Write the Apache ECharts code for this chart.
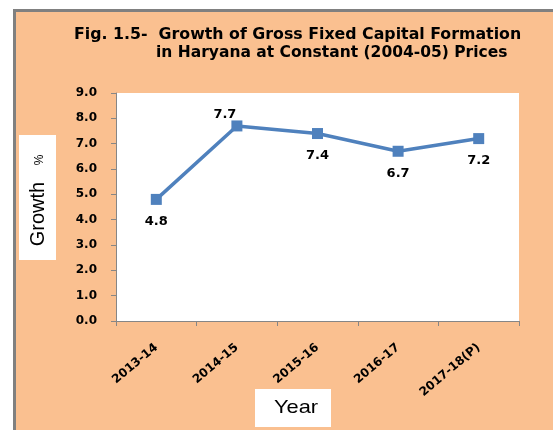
<!DOCTYPE html>
<html>
<head>
<meta charset="utf-8">
<script src="https://cdn.jsdelivr.net/npm/echarts@6/dist/echarts.min.js"></script>
<style>
html,body{margin:0;padding:0;background:#fff;}
#frame{position:absolute;left:13px;top:9px;width:540px;height:421px;box-sizing:border-box;background:#FAC090;border-left:3px solid #808080;border-top:3px solid #808080;}
#c{position:absolute;left:0;top:0;width:553px;height:430px;}
</style>
</head>
<body>
<div id="frame"></div>
<div id="c"></div>
<script>
var categories = ['2013-14', '2014-15', '2015-16', '2016-17', '2017-18(P)'];
var growth = [4.8, 7.7, 7.4, 6.7, 7.2];
var labelPositions = ['bottom', 'top', 'bottom', 'bottom', 'bottom'];
var titleLine1 = 'Fig. 1.5-  Growth of Gross Fixed Capital Formation';
var titleLine2 = 'in Haryana at Constant (2004-05) Prices';
var yName = 'Growth';
var yUnit = '%';
var xName = 'Year';

var chart = echarts.init(document.getElementById('c'), null, {renderer: 'canvas'});
var boldFont = {fontFamily: 'DejaVu Sans', fontWeight: 'bold', color: '#000'};

var data = growth.map(function (v, i) {
  var pos = labelPositions[i];
  return {
    value: v,
    label: pos === 'top'
      ? {position: 'top', distance: 6, offset: [-12, 7]}
      : {position: 'bottom', distance: 10}
  };
});

chart.setOption({
  backgroundColor: 'transparent',
  animation: false,
  title: [
    {text: titleLine1, left: 69, top: 22, textStyle: Object.assign({fontSize: 15.8}, boldFont)},
    {text: titleLine2, left: 151, top: 40, textStyle: Object.assign({fontSize: 15.5}, boldFont)}
  ],
  grid: {left: 116, right: 34, top: 93, bottom: 109, show: true, backgroundColor: '#fff', borderWidth: 0},
  xAxis: {
    type: 'category',
    data: categories,
    boundaryGap: true,
    axisLine: {lineStyle: {color: '#868686', width: 1}},
    axisTick: {show: true, length: 5, alignWithLabel: false, lineStyle: {color: '#868686'}},
    axisLabel: Object.assign({rotate: 40, fontSize: 12, margin: 25, interval: 0}, boldFont),
    splitLine: {show: false}
  },
  yAxis: {
    type: 'value',
    min: 0, max: 9, interval: 1,
    axisLine: {show: true, lineStyle: {color: '#868686', width: 1}},
    axisTick: {show: true, length: 5, lineStyle: {color: '#868686'}},
    axisLabel: Object.assign({fontSize: 12, margin: 19, formatter: function (v) { return v.toFixed(1); }}, boldFont),
    splitLine: {show: false}
  },
  series: [{
    type: 'line',
    data: data,
    symbol: 'rect',
    symbolSize: 11,
    lineStyle: {color: '#4F81BD', width: 3.5},
    itemStyle: {color: '#4F81BD'},
    label: Object.assign({show: true, fontSize: 13, formatter: function (p) { return p.value.toFixed(1); }}, boldFont)
  }],
  graphic: [
    {type: 'rect', shape: {x: 19, y: 135, width: 37, height: 125}, style: {fill: '#fff'}},
    {type: 'text', x: 38, y: 214, rotation: Math.PI / 2,
     style: {text: yName, align: 'center', verticalAlign: 'middle', fontFamily: 'Liberation Sans', fontSize: 20, fill: '#000'}},
    {type: 'text', x: 40, y: 160, rotation: Math.PI / 2,
     style: {text: yUnit, align: 'center', verticalAlign: 'middle', fontFamily: 'Liberation Sans', fontSize: 12, fill: '#000'}},
    {type: 'rect', shape: {x: 255, y: 389, width: 76, height: 38}, style: {fill: '#fff'}},
    {type: 'text', x: 296, y: 408, scaleX: 1.15,
     style: {text: xName, align: 'center', verticalAlign: 'middle', fontFamily: 'Liberation Sans', fontSize: 19, fill: '#000'}}
  ]
});
</script>
</body>
</html>
